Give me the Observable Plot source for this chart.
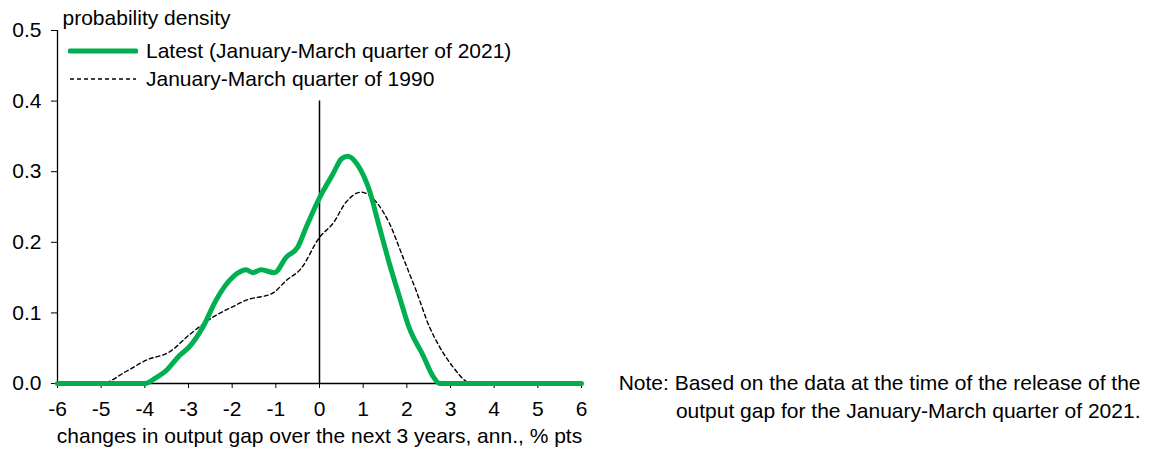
<!DOCTYPE html>
<html>
<head>
<meta charset="utf-8">
<script src="https://cdn.jsdelivr.net/npm/d3@7"></script>
<script src="https://cdn.jsdelivr.net/npm/@observablehq/plot@0.6"></script>
<style>
  html, body { margin: 0; padding: 0; background: #fff; }
  #wrap { position: relative; width: 1149px; height: 450px; font-family: "Liberation Sans", Arial, sans-serif; }
  #legend { position: absolute; left: 68px; top: 37px; font-size: 21px; color: #000; line-height: 28px; }
  #legend .row { display: flex; align-items: center; white-space: nowrap; }
  #legend svg { margin-right: 8px; }
</style>
</head>
<body>
<div id="wrap"></div>
<script>
// Latest (January-March quarter of 2021)
const latestX = [-6, -4, -3.75, -3.5, -3.2, -2.98, -2.67, -2.37, -2.06, -1.83, -1.68, -1.53, -1.34, -1.03, -0.76, -0.5, -0.3, 0, 0.31, 0.5, 0.65, 0.88, 1.14, 1.37, 1.6, 1.83, 2.06, 2.37, 2.6, 2.75, 6];
const latestY = [0, 0, 0.008, 0.019, 0.04, 0.052, 0.08, 0.118, 0.146, 0.158, 0.161, 0.157, 0.161, 0.157, 0.179, 0.193, 0.222, 0.263, 0.297, 0.318, 0.322, 0.309, 0.274, 0.222, 0.17, 0.123, 0.078, 0.04, 0.01, 0, 0];
// January-March quarter of 1990
const q1990X = [-6, -5, -4.43, -3.97, -3.43, -2.98, -2.44, -1.98, -1.68, -1.07, -0.76, -0.42, 0, 0.31, 0.61, 0.95, 1.3, 1.6, 1.91, 2.21, 2.52, 2.75, 3.05, 3.36, 3.45, 6];
const q1990Y = [0, 0, 0.017, 0.033, 0.045, 0.069, 0.094, 0.109, 0.118, 0.128, 0.146, 0.163, 0.207, 0.227, 0.257, 0.271, 0.257, 0.227, 0.179, 0.132, 0.08, 0.052, 0.024, 0.003, 0, 0];

const xTicks = [-6, -5, -4, -3, -2, -1, 0, 1, 2, 3, 4, 5, 6];
const yTicks = [0, 0.1, 0.2, 0.3, 0.4, 0.5];

const seriesNames = ["Latest (January-March quarter of 2021)", "January-March quarter of 1990"];
const yTitle = "probability density";
const xTitle = "changes in output gap over the next 3 years, ann., % pts";
const noteLines = ["Note: Based on the data at the time of the release of the", "output gap for the January-March quarter of 2021."];

const latest = latestX.map((x, i) => ({x, y: latestY[i]}));
const q1990 = q1990X.map((x, i) => ({x, y: q1990Y[i]}));

const green = "#00B050";
const fs = 21;

const chart = Plot.plot({
  width: 1149,
  height: 450,
  marginLeft: 57,
  marginRight: 568,
  marginTop: 30,
  marginBottom: 67,
  style: { fontFamily: "'Liberation Sans', Arial, sans-serif", fontSize: fs + "px", color: "#000", background: "#fff", overflow: "visible" },
  x: { domain: [-6, 6] },
  y: { domain: [0, 0.5] },
  marks: [
    Plot.axisY({ ticks: yTicks, tickFormat: d3.format(".1f"), tickSize: 6, tickPadding: 10, label: null, fontSize: fs }),
    Plot.axisX({ ticks: xTicks, tickFormat: d => String(d), tickSize: 5, tickPadding: 13, label: null, fontSize: fs }),
    Plot.ruleX([-6], { stroke: "#000", strokeWidth: 1.3 }),
    Plot.ruleY([0], { stroke: "#000", strokeWidth: 1.3 }),
    Plot.ruleX([0], { y1: 0, y2: 0.4, stroke: "#000", strokeWidth: 1.5 }),
    Plot.line(q1990, { x: "x", y: "y", stroke: "#000", strokeWidth: 1.4, strokeDasharray: "4,3", curve: "monotone-x" }),
    Plot.line(latest, { x: "x", y: "y", stroke: green, strokeWidth: 5, curve: "monotone-x" }),
    Plot.text([yTitle], { frameAnchor: "top-left", dx: 5, dy: -12, textAnchor: "start", lineAnchor: "middle", fontSize: fs }),
    Plot.text([xTitle], { frameAnchor: "bottom", dy: 53, lineAnchor: "middle", fontSize: fs }),
    Plot.text([noteLines[0]], { frameAnchor: "bottom-right", dx: 559, dy: 0, textAnchor: "end", lineAnchor: "middle", fontSize: fs }),
    Plot.text([noteLines[1]], { frameAnchor: "bottom-right", dx: 559, dy: 28, textAnchor: "end", lineAnchor: "middle", fontSize: fs })
  ]
});

const wrap = document.getElementById("wrap");
wrap.appendChild(chart);

const legend = document.createElement("div");
legend.id = "legend";
legend.innerHTML = `
  <div class="row"><svg width="70" height="10"><line x1="2" y1="5" x2="68" y2="5" stroke="${green}" stroke-width="5" stroke-linecap="round"/></svg><span>${seriesNames[0]}</span></div>
  <div class="row"><svg width="70" height="10"><line x1="2" y1="5" x2="68" y2="5" stroke="#000" stroke-width="1.4" stroke-dasharray="4,3"/></svg><span>${seriesNames[1]}</span></div>
`;
wrap.appendChild(legend);
</script>
</body>
</html>
